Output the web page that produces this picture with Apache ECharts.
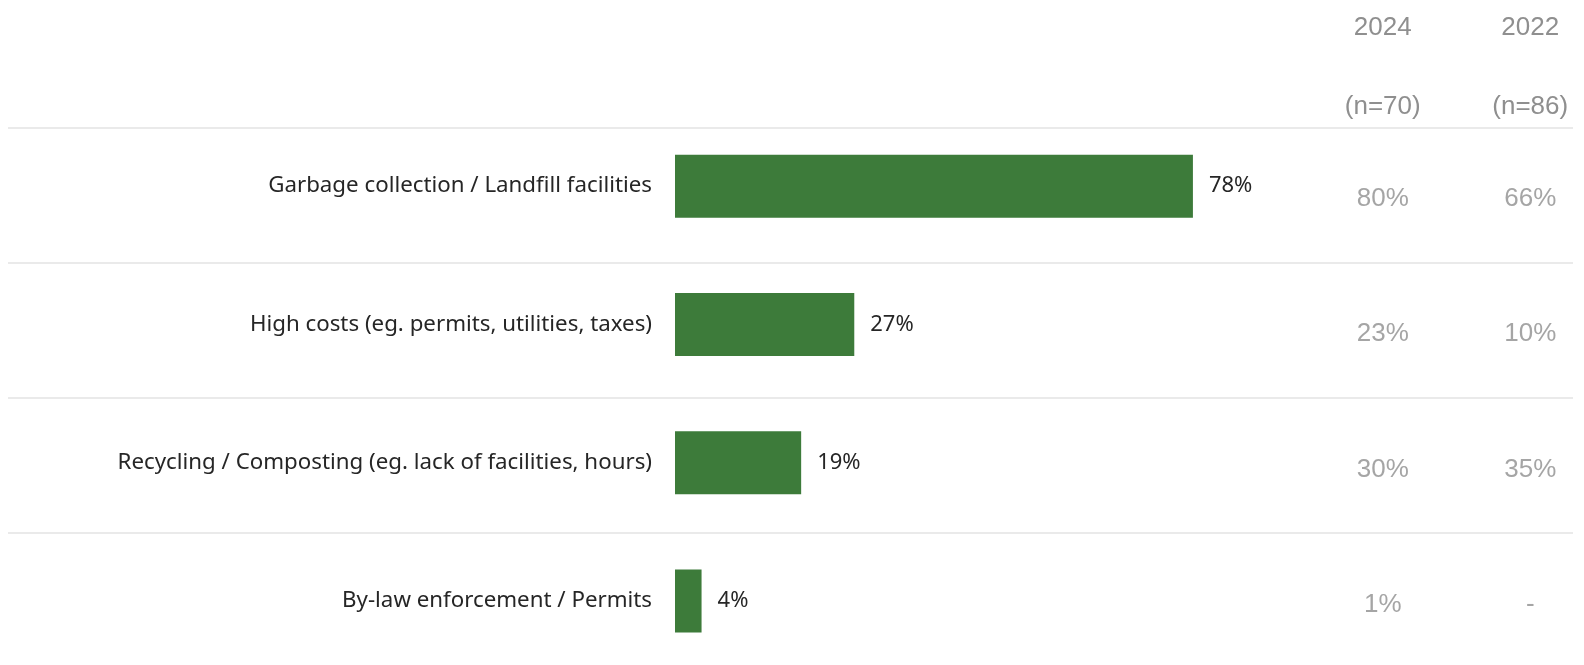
<!DOCTYPE html>
<html>
<head>
<meta charset="utf-8">
<script src="https://cdn.jsdelivr.net/npm/echarts@6/dist/echarts.min.js"></script>
<style>
  html, body { margin: 0; padding: 0; background: #ffffff; }
  #chart { width: 1584px; height: 665px; }
</style>
</head>
<body>
<div id="chart"></div>
<script>
// Issues named, current wave (bars) plus earlier waves (table columns)
const categories = [
  'Garbage collection / Landfill facilities',
  'High costs (eg. permits, utilities, taxes)',
  'Recycling / Composting (eg. lack of facilities, hours)',
  'By-law enforcement / Permits'
];
const currentValues = [78, 27, 19, 4];

const waveYears = ['2024', '2022'];
const waveBases = ['(n=70)', '(n=86)'];
const values2024 = [80, 23, 30, 1];
const values2022 = [66, 10, 35, null];

const GREEN = '#3d7b3a';
const LABEL_DARK = '#262626';
const GREY = '#8f8f8f';
const LEFT_FONT = '"Noto Sans", "Open Sans", sans-serif';
const RIGHT_FONT = '"Liberation Sans", Arial, sans-serif';

// Build scatter points for the comparison table
const tableData = [];
categories.forEach((cat, i) => {
  tableData.push([waveYears[0], cat, values2024[i]]);
  tableData.push([waveYears[1], cat, values2022[i]]);
});

const chart = echarts.init(document.getElementById('chart'), null, { renderer: 'canvas' });

chart.setOption({
  animation: false,
  backgroundColor: '#ffffff',
  grid: [
    // bars
    { left: 675, width: 664, top: 117, height: 553, outerBoundsMode: 'none', containLabel: false },
    // row separators
    { left: 8, right: 11, top: 127.3, height: 541.2, outerBoundsMode: 'none', containLabel: false },
    // comparison columns
    { left: 1309, width: 295, top: 127.3, height: 541.2, outerBoundsMode: 'none', containLabel: false }
  ],
  xAxis: [
    { gridIndex: 0, type: 'value', min: 0, max: 100, show: false },
    { gridIndex: 1, type: 'value', min: 0, max: 1, show: false },
    {
      gridIndex: 2,
      type: 'category',
      position: 'top',
      data: waveYears,
      axisLine: { show: false },
      axisTick: { show: false },
      splitLine: { show: false },
      axisLabel: {
        margin: 5,
        verticalAlign: 'bottom',
        formatter: (v, idx) => '{y|' + v + '}\n{n|' + waveBases[idx] + '}',
        rich: {
          y: { fontSize: 26, fontFamily: RIGHT_FONT, color: GREY, lineHeight: 128, verticalAlign: 'middle' },
          n: { fontSize: 26, fontFamily: RIGHT_FONT, color: GREY, lineHeight: 30, verticalAlign: 'middle' }
        }
      }
    }
  ],
  yAxis: [
    {
      gridIndex: 0,
      type: 'category',
      inverse: true,
      data: categories,
      axisLine: { show: false },
      axisTick: { show: false },
      splitLine: { show: false },
      axisLabel: {
        margin: 23,
        fontSize: 22.3,
        fontFamily: LEFT_FONT,
        color: LABEL_DARK
      }
    },
    {
      gridIndex: 1,
      type: 'category',
      inverse: true,
      data: categories,
      axisLine: { show: false },
      axisTick: { show: false },
      axisLabel: { show: false },
      splitLine: {
        show: true,
        showMinLine: true,
        showMaxLine: true,
        lineStyle: { color: '#e3e3e3', width: 1.6 }
      }
    },
    {
      gridIndex: 2,
      type: 'category',
      inverse: true,
      data: categories,
      show: false
    }
  ],
  series: [
    {
      type: 'bar',
      xAxisIndex: 0,
      yAxisIndex: 0,
      data: currentValues,
      barWidth: 63,
      itemStyle: { color: GREEN },
      label: {
        show: true,
        position: 'right',
        distance: 16,
        formatter: p => p.value + '%',
        fontSize: 22,
        fontFamily: LEFT_FONT,
        color: LABEL_DARK
      },
      silent: true
    },
    {
      type: 'scatter',
      xAxisIndex: 2,
      yAxisIndex: 2,
      data: tableData,
      symbolSize: 0,
      encode: { x: 0, y: 1 },
      label: {
        show: true,
        position: 'inside',
        offset: [0, 4],
        formatter: p => (p.value[2] == null ? '-' : p.value[2] + '%'),
        fontSize: 26,
        fontFamily: RIGHT_FONT,
        color: GREY
      },
      silent: true
    }
  ]
});
</script>
</body>
</html>
